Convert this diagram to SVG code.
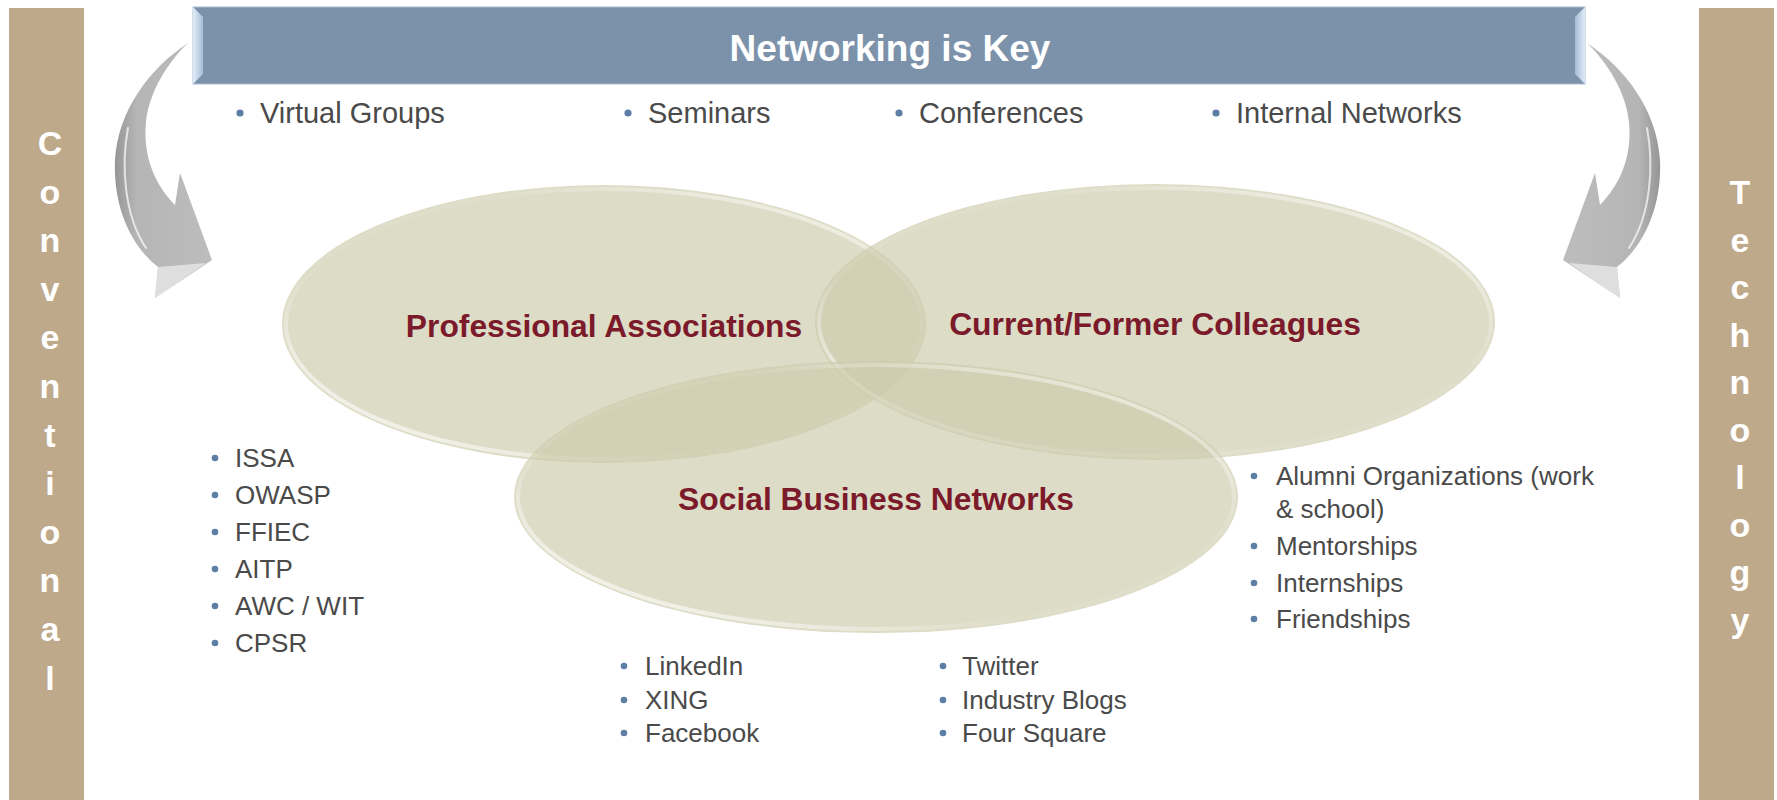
<svg xmlns="http://www.w3.org/2000/svg" width="1777" height="800" viewBox="0 0 1777 800">
  <defs>
    <style>
      .bar { fill: #bea98b; }
      .barText { font-family: "Liberation Sans", Arial, sans-serif; font-weight: bold; font-size: 34px; fill: #ffffff; text-anchor: middle; }
      .title { font-family: "Liberation Sans", Arial, sans-serif; font-weight: bold; font-size: 37px; fill: #ffffff; text-anchor: middle; }
      .item { font-family: "Liberation Sans", Arial, sans-serif; font-size: 26px; fill: #4a4a4a; }
      .itemTop { font-family: "Liberation Sans", Arial, sans-serif; font-size: 29px; fill: #4a4a4a; }
      .dot { fill: #5d7fa6; }
      .label { font-family: "Liberation Sans", Arial, sans-serif; font-weight: bold; font-size: 31.8px; fill: #7b1a2a; text-anchor: middle; }
      .disc { fill: #cdccad; fill-opacity: 0.68; }
      .rim { fill: none; stroke: url(#rimGrad); stroke-width: 4; }
      .arrowBody { fill: url(#arrowGrad); }
      .arrowShine { fill: none; stroke: #ffffff; stroke-opacity: 0.7; stroke-width: 2; stroke-linecap: round; }
      .arrowFace { fill: #eeeeee; fill-opacity: 0.7; }
    </style>
    <linearGradient id="rimGrad" x1="0" y1="1" x2="1" y2="0">
      <stop offset="0" stop-color="#ffffff" stop-opacity="0.95"/>
      <stop offset="0.35" stop-color="#ffffff" stop-opacity="0.06"/>
      <stop offset="0.65" stop-color="#ffffff" stop-opacity="0.06"/>
      <stop offset="1" stop-color="#ffffff" stop-opacity="0.75"/>
    </linearGradient>
    <linearGradient id="arrowGrad" gradientUnits="userSpaceOnUse" x1="110" y1="0" x2="215" y2="0">
      <stop offset="0" stop-color="#8f8f8f"/>
      <stop offset="0.25" stop-color="#b5b5b5"/>
      <stop offset="1" stop-color="#bdbdbd"/>
    </linearGradient>
    <linearGradient id="bevelLeft" x1="0" y1="0" x2="1" y2="0">
      <stop offset="0" stop-color="#e3eefa"/>
      <stop offset="1" stop-color="#a6bdd6"/>
    </linearGradient>
    <linearGradient id="bevelRight" x1="1" y1="0" x2="0" y2="0">
      <stop offset="0" stop-color="#dfeaf7"/>
      <stop offset="1" stop-color="#a6bdd6"/>
    </linearGradient>
    <!-- one curved arrow, reused mirrored on the right side -->
    <g id="curvedArrow">
      <path class="arrowBody" d="M188,43 C150,68 118,110 115,160 C113,205 130,245 158,267 L155,298 L212,260 L180,173 L175,205 C152,182 143,152 146,122 C149,92 168,62 188,43 Z"/>
      <path class="arrowShine" d="M128,128 C121,165 124,215 146,248"/>
      <path class="arrowFace" d="M158,267 L155,298 L160,295 L206,263 Z"/>
    </g>
  </defs>

  <rect width="1777" height="800" fill="#ffffff"/>

  <!-- side bars -->
  <g id="conventional">
    <rect class="bar" x="9" y="8" width="75" height="792"/>
    <text class="barText" x="50" y="155">C</text>
    <text class="barText" x="50" y="203.6">o</text>
    <text class="barText" x="50" y="252.2">n</text>
    <text class="barText" x="50" y="300.8">v</text>
    <text class="barText" x="50" y="349.4">e</text>
    <text class="barText" x="50" y="398">n</text>
    <text class="barText" x="50" y="446.6">t</text>
    <text class="barText" x="50" y="495.2">i</text>
    <text class="barText" x="50" y="543.8">o</text>
    <text class="barText" x="50" y="592.4">n</text>
    <text class="barText" x="50" y="641">a</text>
    <text class="barText" x="50" y="689.6">l</text>
  </g>
  <g id="technology">
    <rect class="bar" x="1699" y="8" width="75" height="792"/>
    <text class="barText" x="1740" y="204">T</text>
    <text class="barText" x="1740" y="251.5">e</text>
    <text class="barText" x="1740" y="299">c</text>
    <text class="barText" x="1740" y="346.5">h</text>
    <text class="barText" x="1740" y="394">n</text>
    <text class="barText" x="1740" y="441.5">o</text>
    <text class="barText" x="1740" y="489">l</text>
    <text class="barText" x="1740" y="536.5">o</text>
    <text class="barText" x="1740" y="584">g</text>
    <text class="barText" x="1740" y="631.5">y</text>
  </g>

  <!-- header banner -->
  <g id="header">
    <rect x="193" y="7" width="1392" height="77" fill="#7c92ab" stroke="#a9bdd3" stroke-width="1"/>
    <polygon points="193,7 203,17 203,74 193,84" fill="url(#bevelLeft)"/>
    <polygon points="1585,7 1575,17 1575,74 1585,84" fill="url(#bevelRight)"/>
    <text class="title" x="890" y="61">Networking is Key</text>
  </g>

  <!-- top bullet row -->
  <g id="topItems">
    <circle class="dot" cx="240" cy="113" r="3.6"/>
    <text class="itemTop" x="260" y="123">Virtual Groups</text>
    <circle class="dot" cx="628" cy="113" r="3.6"/>
    <text class="itemTop" x="648" y="123">Seminars</text>
    <circle class="dot" cx="899" cy="113" r="3.6"/>
    <text class="itemTop" x="919" y="123">Conferences</text>
    <circle class="dot" cx="1216" cy="113" r="3.6"/>
    <text class="itemTop" x="1236" y="123">Internal Networks</text>
  </g>

  <!-- curved arrows -->
  <g id="arrows">
    <use href="#curvedArrow"/>
    <use href="#curvedArrow" transform="translate(1775,0) scale(-1,1)"/>
  </g>

  <!-- overlapping circles -->
  <g id="professional">
    <ellipse class="disc" cx="604" cy="324" rx="322" ry="139"/>
    <ellipse class="rim" cx="604" cy="324" rx="318" ry="135"/>
  </g>
  <g id="colleagues">
    <ellipse class="disc" cx="1155" cy="322" rx="340" ry="138"/>
    <ellipse class="rim" cx="1155" cy="322" rx="336" ry="134"/>
  </g>
  <g id="social">
    <ellipse class="disc" cx="876" cy="497" rx="362" ry="136"/>
    <ellipse class="rim" cx="876" cy="497" rx="358" ry="132"/>
  </g>
  <g id="labels">
    <text class="label" x="604" y="337">Professional Associations</text>
    <text class="label" x="1155" y="335">Current/Former Colleagues</text>
    <text class="label" x="876" y="510">Social Business Networks</text>
  </g>

  <!-- professional associations list -->
  <g id="listProfessional">
    <circle class="dot" cx="215" cy="458" r="3.3"/>
    <text class="item" x="235" y="467">ISSA</text>
    <circle class="dot" cx="215" cy="495" r="3.3"/>
    <text class="item" x="235" y="504">OWASP</text>
    <circle class="dot" cx="215" cy="532" r="3.3"/>
    <text class="item" x="235" y="541">FFIEC</text>
    <circle class="dot" cx="215" cy="569" r="3.3"/>
    <text class="item" x="235" y="578">AITP</text>
    <circle class="dot" cx="215" cy="606" r="3.3"/>
    <text class="item" x="235" y="615">AWC / WIT</text>
    <circle class="dot" cx="215" cy="643" r="3.3"/>
    <text class="item" x="235" y="652">CPSR</text>
  </g>

  <!-- social networks lists -->
  <g id="listSocial">
    <circle class="dot" cx="624" cy="666" r="3.3"/>
    <text class="item" x="645" y="675">LinkedIn</text>
    <circle class="dot" cx="624" cy="700" r="3.3"/>
    <text class="item" x="645" y="709">XING</text>
    <circle class="dot" cx="624" cy="733" r="3.3"/>
    <text class="item" x="645" y="742">Facebook</text>
    <circle class="dot" cx="943" cy="666" r="3.3"/>
    <text class="item" x="962" y="675">Twitter</text>
    <circle class="dot" cx="943" cy="700" r="3.3"/>
    <text class="item" x="962" y="709">Industry Blogs</text>
    <circle class="dot" cx="943" cy="733" r="3.3"/>
    <text class="item" x="962" y="742">Four Square</text>
  </g>

  <!-- colleagues list -->
  <g id="listColleagues">
    <circle class="dot" cx="1254" cy="476" r="3.3"/>
    <text class="item" x="1276" y="485">Alumni Organizations (work</text>
    <text class="item" x="1276" y="518">&amp; school)</text>
    <circle class="dot" cx="1254" cy="546" r="3.3"/>
    <text class="item" x="1276" y="555">Mentorships</text>
    <circle class="dot" cx="1254" cy="583" r="3.3"/>
    <text class="item" x="1276" y="592">Internships</text>
    <circle class="dot" cx="1254" cy="619" r="3.3"/>
    <text class="item" x="1276" y="628">Friendships</text>
  </g>
</svg>
